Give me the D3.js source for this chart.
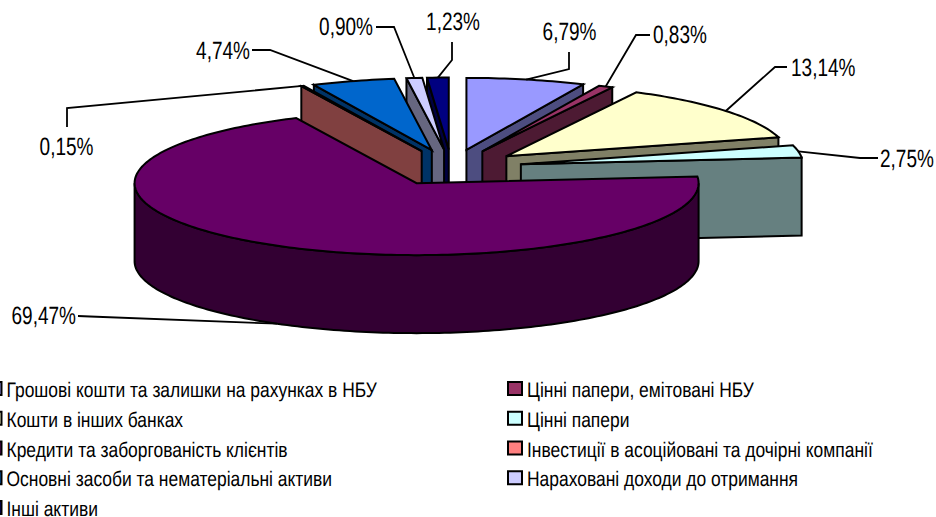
<!DOCTYPE html>
<html>
<head>
<meta charset="utf-8">
<script src="https://cdn.jsdelivr.net/npm/d3@7"></script>
<style>
html, body { margin: 0; padding: 0; background: #fff; }
svg { display: block; }
text { font-family: "Liberation Sans", Arial, sans-serif; fill: #000; text-rendering: geometricPrecision; }
</style>
</head>
<body>
<script>
// slices clockwise from 12 o'clock
var values = [6.79, 0.83, 13.14, 2.75, 69.47, 0.15, 4.74, 0.90, 1.23];
var value_labels = ["6,79%", "0,83%", "13,14%", "2,75%", "69,47%", "0,15%", "4,74%", "0,90%", "1,23%"];
var top_colors = ["#9999FF", "#993366", "#FFFFCC", "#CCFFFF", "#660066", "#FF8080", "#0066CC", "#CCCCFF", "#000080"];
var legend_names = [
	"Грошові кошти та залишки на рахунках в НБУ",
	"Цінні папери, емітовані НБУ",
	"Кошти в інших банках",
	"Цінні папери",
	"Кредити та заборгованість клієнтів",
	"Інвестиції в асоційовані та дочірні компанії",
	"Основні засоби та нематеріальні активи",
	"Нараховані доходи до отримання",
	"Інші активи"
];

var w = 936, h = 517;
var cx = 451.5, cy = 167.5, rx = 282, ry = 72, depth = 78, explode = 0.25;
var paint_order = [8, 7, 6, 5, 0, 1, 2, 3, 4];

// elbow + end of each leader, text anchor [x, y of baseline, text-anchor]
var leaders = [
	[[569, 69], [569, 52]],
	[[636, 35], [650, 35]],
	[[775, 67], [787, 67]],
	[[860, 158], [878, 158]],
	[[90, 316.5], [78, 316]],
	[[67, 108], [67, 127]],
	[[270, 50], [252, 50]],
	[[394, 27], [376, 27]],
	[[452, 60], [452, 42]]
];
var label_pos = [
	[569.5, 40, "middle"],
	[653, 43, "start"],
	[791, 76, "start"],
	[880, 167, "start"],
	[76, 324, "end"],
	[66.5, 155, "middle"],
	[250, 59, "end"],
	[373, 35, "end"],
	[453, 30, "middle"]
];

var svg = d3.select("body").append("svg").attr("width", w).attr("height", h);

var slices = d3.pie().sort(null).value(function(d) { return d; })(values);

function point(a, x0, y0) {
	return [x0 + rx * Math.sin(a), y0 - ry * Math.cos(a)];
}

// arc samples from a0 to a1, always hits both ends
function arc_points(a0, a1, x0, y0) {
	var n = Math.max(2, Math.ceil(Math.abs(a1 - a0) / 0.02));
	return d3.range(n + 1).map(function(i) {
		return point(a0 + (a1 - a0) * i / n, x0, y0);
	});
}

var line = d3.line();
var quarter = Math.PI / 2;

function draw_slice(g, s, i) {
	var mid = (s.startAngle + s.endAngle) / 2;
	var ox = cx + explode * rx * Math.sin(mid);
	var oy = cy - explode * ry * Math.cos(mid);
	var c = d3.rgb(top_colors[i]);
	var side = d3.rgb(c.r / 2, c.g / 2, c.b / 2) + "";

	function face(pts) {
		g.append("path")
			.attr("d", line(pts) + "Z")
			.attr("fill", side)
			.attr("stroke", "#000")
			.attr("stroke-width", 2)
			.attr("stroke-linejoin", "miter");
	}

	function radial(a) {
		var p = point(a, ox, oy);
		face([[ox, oy], p, [p[0], p[1] + depth], [ox, oy + depth]]);
	}

	if (Math.sin(s.startAngle) < 0) radial(s.startAngle);
	if (Math.sin(s.endAngle) > 0) radial(s.endAngle);

	// outer rim, only the part that faces the viewer
	var a0 = Math.max(s.startAngle, quarter), a1 = Math.min(s.endAngle, 3 * quarter);
	if (a1 > a0) {
		var upper = arc_points(a0, a1, ox, oy);
		var lower = upper.map(function(p) { return [p[0], p[1] + depth]; }).reverse();
		face(upper.concat(lower));
	}

	g.append("path")
		.attr("d", line([[ox, oy]].concat(arc_points(s.startAngle, s.endAngle, ox, oy))) + "Z")
		.attr("fill", top_colors[i])
		.attr("stroke", "#000")
		.attr("stroke-width", 2)
		.attr("stroke-linejoin", "miter");
}

var pie_g = svg.append("g");
paint_order.forEach(function(i) {
	draw_slice(pie_g.append("g"), slices[i], i);
});

// leaders start on the arc of their slice
var lead_g = svg.append("g");
slices.forEach(function(s, i) {
	var mid = (s.startAngle + s.endAngle) / 2;
	var ox = cx + explode * rx * Math.sin(mid);
	var oy = cy - explode * ry * Math.cos(mid);
	var p = point(mid, ox, oy);
	if (Math.cos(mid) < 0) p[1] += depth;
	lead_g.append("path")
		.attr("d", line([p].concat(leaders[i])))
		.attr("fill", "none")
		.attr("stroke", "#000")
		.attr("stroke-width", 1.8);
});

// text in the picture is squeezed sideways
var label_sx = 0.76, legend_sx = 0.83;
label_pos.forEach(function(p, i) {
	svg.append("text")
		.attr("transform", "translate(" + p[0] + "," + p[1] + ") scale(" + label_sx + ",1)")
		.attr("text-anchor", p[2])
		.attr("font-size", 25)
		.text(value_labels[i]);
});

var row_y = d3.scalePoint().domain(d3.range(5)).range([390, 509]);
var col_x = [2.5, 523];
legend_names.forEach(function(name, i) {
	var c = i % 2, r = Math.floor(i / 2);
	var y = row_y(r);
	svg.append("rect")
		.attr("x", col_x[c] - 15)
		.attr("y", y - 8)
		.attr("width", 14)
		.attr("height", 13)
		.attr("fill", top_colors[i])
		.attr("stroke", "#000")
		.attr("stroke-width", 2);
	svg.append("text")
		.attr("transform", "translate(" + (col_x[c] + 4) + "," + (y + 7) + ") scale(" + legend_sx + ",1)")
		.attr("font-size", 21)
		.text(name);
});
</script>
</body>
</html>
